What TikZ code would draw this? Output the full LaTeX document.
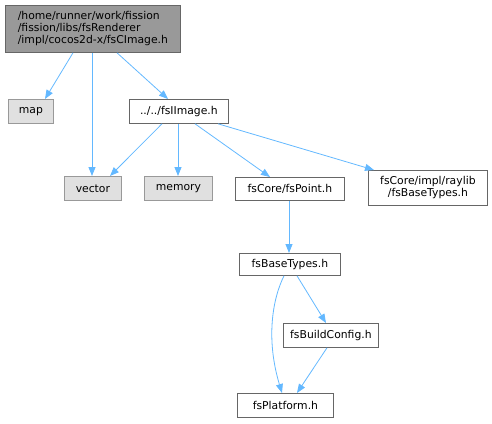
\documentclass[tikz,border=0pt]{standalone}
\usepackage{fontspec}
\setmainfont{DejaVu Sans}
\usetikzlibrary{arrows.meta}
\definecolor{edgeblue}{HTML}{63B8FF}
\definecolor{rootfill}{HTML}{999999}
\definecolor{sysfill}{HTML}{E0E0E0}
\begin{document}
\begin{tikzpicture}[x=1pt,y=-1pt,
  box/.style={draw=black!60,line width=0.8pt,inner sep=0pt,font=\fontsize{10.8}{12}\selectfont,anchor=north west},
  sysbox/.style={box,draw=black!40,fill=sysfill},
  dep/.style={draw=edgeblue,line width=0.8pt,-{Triangle[length=9pt,width=7pt]}}]
\useasboundingbox (0,0) rectangle (492,423);
\node[box,fill=rootfill,minimum width=175pt,minimum height=47pt,align=left] (root) at (5,5)
  {/home/runner/work/fission\\/fission/libs/fsRenderer\\/impl/cocos2d-x/fsCImage.h};
\node[sysbox,minimum width=45pt,minimum height=24pt] (map) at (8,99) {map};
\node[box,minimum width=99pt,minimum height=24pt] (iimg) at (129,99) {../../fsIImage.h};
\node[sysbox,minimum width=57pt,minimum height=24pt] (vec) at (64,176) {vector};
\node[sysbox,minimum width=68pt,minimum height=24pt] (mem) at (144,176) {memory};
\node[box,minimum width=109pt,minimum height=23pt] (pt) at (235,177) {fsCore/fsPoint.h};
\node[box,minimum width=119pt,minimum height=35pt,align=center] (ray) at (368,170) {fsCore/impl/raylib\\/fsBaseTypes.h};
\node[box,minimum width=101pt,minimum height=22pt] (bt) at (239,253) {fsBaseTypes.h};
\node[box,minimum width=95pt,minimum height=24pt] (bc) at (283,323) {fsBuildConfig.h};
\node[box,minimum width=96pt,minimum height=24pt] (pl) at (237,393) {fsPlatform.h};
\draw[dep] (root.south -| 73,0) -- (map.north -| 45,0);
\draw[dep] (root.south -| 92,0) -- (vec.north -| 92,0);
\draw[dep] (root.south -| 117,0) -- (iimg.north -| 168,0);
\draw[dep] (iimg.south -| 162,0) -- (vec.north -| 110,0);
\draw[dep] (iimg.south -| 178,0) -- (mem.north -| 178,0);
\draw[dep] (iimg.south -| 195,0) -- (pt.north -| 270,0);
\draw[dep] (iimg.south -| 218,0) -- (ray.north -| 374,0);
\draw[dep] (pt.south -| 289,0) -- (bt.north -| 289,0);
\draw[dep] (bt.south -| 284,0) .. controls (272,300) and (266,340) .. (pl.north -| 282,0);
\draw[dep] (bt.south -| 297,0) -- (bc.north -| 326,0);
\draw[dep] (bc.south -| 327,0) -- (pl.north -| 297,0);
\end{tikzpicture}
\end{document}
